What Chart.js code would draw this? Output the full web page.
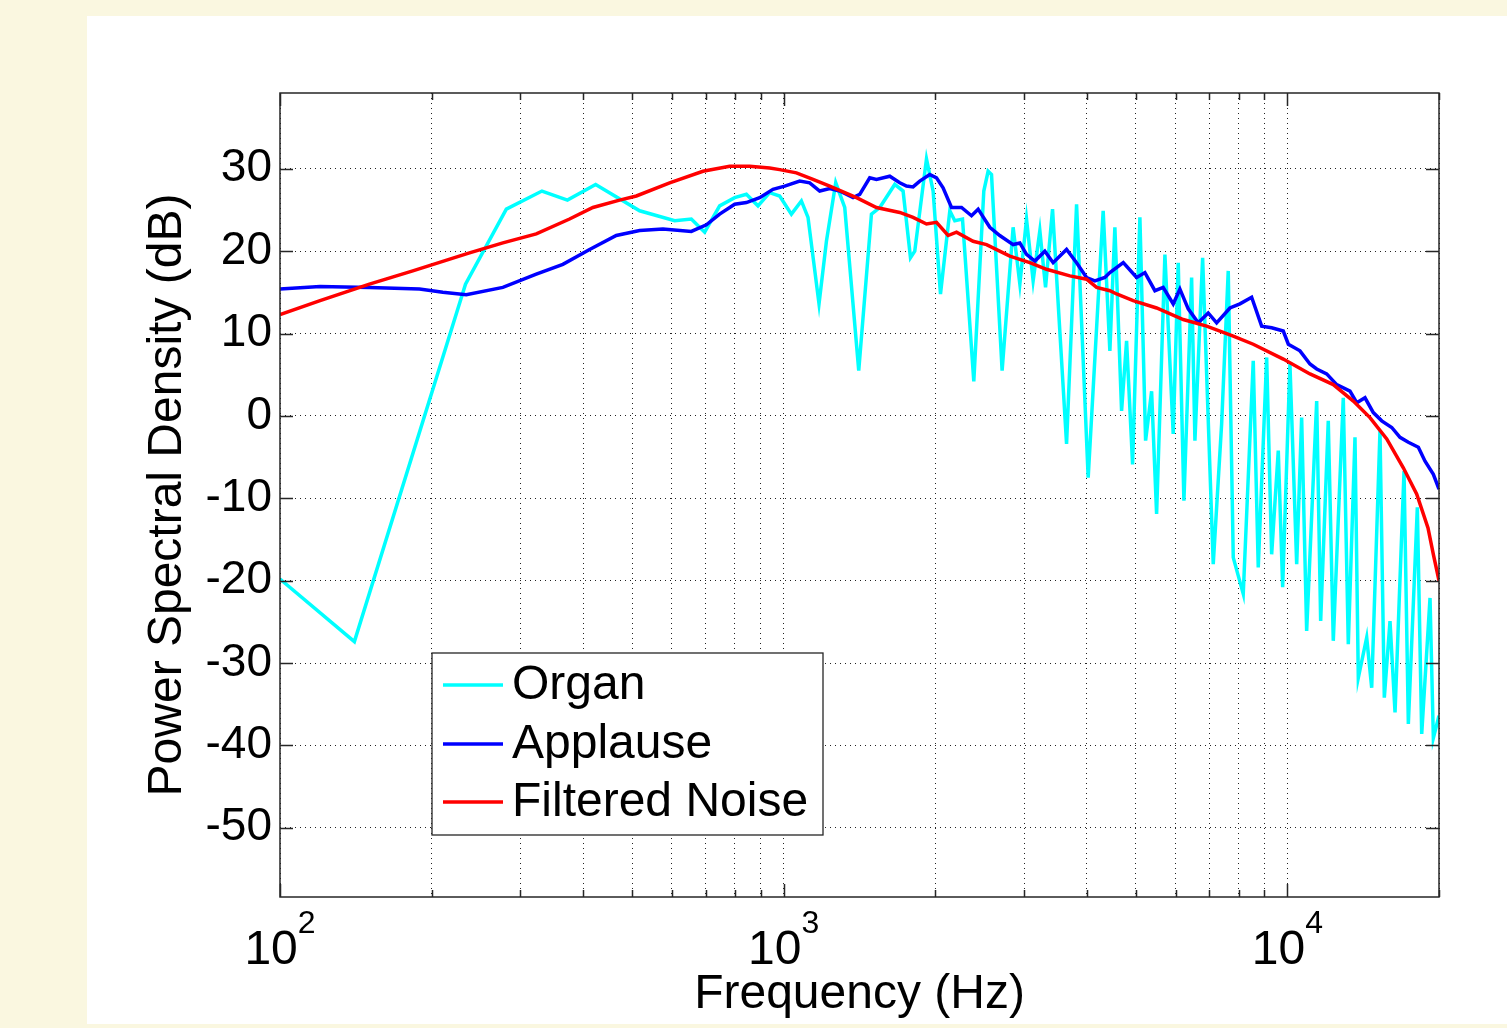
<!DOCTYPE html>
<html>
<head>
<meta charset="utf-8">
<title>Power Spectral Density</title>
<script src="https://cdn.jsdelivr.net/npm/chart.js@4.4.1/dist/chart.umd.min.js"></script>
<style>
  html, body { margin: 0; padding: 0; background: #faf7e0; overflow: hidden; }
  #panel { position: absolute; left: 87px; top: 16px; width: 1420px; height: 1008px; background: #fff; }
  #psd { position: absolute; left: 0; top: 0; }
</style>
</head>
<body>
<div id="panel"></div>
<canvas id="psd" width="1507" height="1028"></canvas>
<script>
// frequency in Hz, level in dB
const organFreq = [100, 140.5, 233.5, 281.4, 331.2, 372.1, 423.3, 517.6, 607.5, 655.6,
  696.8, 746.2, 799.3, 843.2, 889.2, 937.9, 981.8, 1035.9, 1084.3, 1117.6,
  1175.3, 1215.8, 1268.6, 1321.9, 1409.3, 1493.6, 1551.5, 1661.6, 1726, 1785.4,
  1820.7, 1920.9, 1980, 2047.9, 2137.2, 2186.3, 2264.7, 2384.8, 2496.4, 2546,
  2586, 2714.3, 2854.4, 2943.5, 3034.7, 3127.8, 3225.4, 3310.4, 3418, 3644.3,
  3814.9, 4022.8, 4308, 4442.2, 4545, 4686.3, 4794.9, 4928.2, 5095.5, 5230.4,
  5375.7, 5500.1, 5713, 5934, 6071.7, 6231.6, 6454.7, 6553.2, 6787.9, 7125.2,
  7403.8, 7631.4, 7808.7, 8173.1, 8555.5, 8753.6, 9096.8, 9306.3, 9592.5, 9787,
  10118, 10435, 10674, 10922, 11434, 11644, 12056, 12335, 12912, 13212,
  13622, 13830, 14371, 14703, 15271, 15576, 15987, 16358, 17045, 17385,
  18114, 18481, 19196, 19490, 20000];
const organDb = [-19.8, -27.4, 16.0, 25.1, 27.3, 26.2, 28.1, 24.9, 23.7, 23.9,
  22.3, 25.5, 26.5, 26.9, 25.5, 27.1, 26.7, 24.5, 26.1, 24.1,
  13.6, 21.2, 28.3, 25.3, 5.5, 24.5, 25.3, 28.1, 27.3, 19.2,
  20.0, 31.2, 27.3, 14.8, 24.9, 23.7, 23.9, 4.2, 27.3, 29.7,
  29.3, 5.5, 22.9, 16.0, 23.9, 16.4, 22.5, 15.6, 25.1, -3.4,
  25.7, -7.5, 24.9, 7.9, 22.9, 0.6, 9.1, -5.9, 24.1, -3.0,
  3.0, -11.9, 19.6, -2.2, 18.6, -10.3, 16.8, -3.0, 19.2, -18.0,
  -1.0, 17.6, -17.2, -21.6, 6.7, -18.4, 7.1, -16.8, -4.2, -20.8,
  6.3, -18.0, -0.2, -26.1, 1.8, -24.9, -0.6, -27.3, 2.2, -27.7,
  -2.6, -31.8, -26.9, -33.0, -1.8, -34.2, -24.9, -36.0, -6.7, -37.4,
  -11.1, -38.6, -22.1, -39.1, -36.4];

const applauseFreq = [100, 120.1, 150.5, 189.2, 210.5, 234.3, 277, 322.7, 364.4, 411.8,
  465.2, 517.6, 575.8, 655.6, 702.3, 746.2, 799.3, 843.2, 896.1, 952.2,
  1004.6, 1075.9, 1126.3, 1179, 1234.2, 1291.9, 1373, 1415.7, 1481.9, 1528.2,
  1624, 1699.9, 1753.1, 1806.6, 1862.8, 1950, 2010.8, 2072.3, 2153.5, 2254.5,
  2359.7, 2432.7, 2565.6, 2685.6, 2854.4, 2943.5, 3034.7, 3152.3, 3299.9, 3427.5,
  3644.3, 3814.9, 3993.3, 4147.8, 4341.9, 4442.2, 4722.9, 5019.8, 5213.6, 5457.6,
  5668.6, 5934, 6118.6, 6355.1, 6652.6, 6963.7, 7237.8, 7690.2, 8050.3, 8493.1,
  8890.8, 9306.3, 9814.4, 10044, 10592, 11088, 11434, 11968, 12529, 13314,
  13729, 14260, 14812, 15393, 16115, 16734, 17385, 18199, 18764, 19490, 20000];
const applauseDb = [15.4, 15.7, 15.6, 15.4, 15.0, 14.7, 15.6, 17.2, 18.4, 20.2,
  21.9, 22.5, 22.7, 22.4, 23.2, 24.5, 25.7, 25.9, 26.5, 27.5,
  27.9, 28.5, 28.3, 27.3, 27.6, 27.3, 26.5, 26.9, 28.9, 28.7,
  29.1, 28.3, 27.9, 27.8, 28.5, 29.3, 28.9, 27.7, 25.3, 25.3,
  24.3, 25.1, 22.9, 21.9, 20.8, 21.0, 19.6, 18.8, 20.0, 18.6,
  20.2, 18.6, 16.8, 16.4, 16.8, 17.4, 18.6, 16.8, 17.4, 15.2,
  15.6, 13.6, 15.4, 13.0, 11.3, 12.5, 11.3, 13.1, 13.6, 14.4,
  10.9, 10.7, 10.3, 8.7, 7.9, 6.3, 5.7, 5.1, 3.8, 3.0,
  1.6, 2.2, 0.4, -0.6, -1.4, -2.6, -3.2, -3.8, -5.5, -7.1, -8.9];

const noiseFreq = [100, 120.1, 150.5, 183.5, 237.8, 277, 322.7, 375.7, 418.1, 472.2,
  509.9, 593.7, 691.4, 781.1, 855.9, 937.9, 981.8, 1059.9, 1143.4, 1234.2,
  1394.7, 1528.2, 1699.9, 1806.6, 1920.9, 2010.8, 2120.6, 2203.5, 2377.1, 2527.4,
  2811.4, 3080.5, 3325.3, 3698.9, 3993.3, 4180.7, 4442.2, 4580.8, 4941.7, 5500.1,
  6211.6, 6913.8, 7808.7, 8555.5, 9814.4, 11088, 12335, 13518, 14588, 15749,
  16990, 18065, 19019, 19490, 20000];
const noiseDb = [12.3, 14.0, 16.0, 17.6, 19.8, 21.0, 22.1, 23.9, 25.3, 26.2,
  26.7, 28.3, 29.7, 30.3, 30.3, 30.1, 29.9, 29.5, 28.7, 27.9,
  26.5, 25.3, 24.7, 24.1, 23.3, 23.5, 21.9, 22.3, 21.2, 20.8,
  19.4, 18.6, 17.8, 17.0, 16.6, 15.6, 15.2, 14.8, 14.0, 13.1,
  11.7, 10.9, 9.7, 8.7, 6.9, 5.1, 3.8, 1.8, -0.2, -2.8,
  -6.3, -9.5, -13.6, -16.8, -20.0];

const xGrid = [100, 200, 300, 400, 500, 600, 700, 800, 900,
  1000, 2000, 3000, 4000, 5000, 6000, 7000, 8000, 9000, 10000, 20000];
const xMajor = [100, 1000, 10000];
const yTicks = [-50, -40, -30, -20, -10, 0, 10, 20, 30];

const FONT = '"Liberation Sans", Arial, Helvetica, sans-serif';
const pts = (xs, ys) => xs.map((v, i) => ({ x: v, y: ys[i] }));

// MATLAB look: boxed axes, inward ticks, 10^n labels, legend inside the axes
const matlabAxes = {
  id: 'matlabAxes',
  afterDraw(chart) {
    const { ctx, chartArea: a, scales: { x, y } } = chart;
    ctx.save();
    ctx.strokeStyle = '#262626';
    ctx.lineWidth = 1.5;
    ctx.strokeRect(a.left, a.top, a.right - a.left, a.bottom - a.top);

    ctx.beginPath();
    xGrid.forEach(v => {
      const px = Math.round(x.getPixelForValue(v)) + 0.5;
      const len = xMajor.includes(v) ? 13 : 7;
      ctx.moveTo(px, a.bottom); ctx.lineTo(px, a.bottom - len);
      ctx.moveTo(px, a.top); ctx.lineTo(px, a.top + len);
    });
    yTicks.forEach(v => {
      const py = Math.round(y.getPixelForValue(v)) + 0.5;
      ctx.moveTo(a.left, py); ctx.lineTo(a.left + 13, py);
      ctx.moveTo(a.right, py); ctx.lineTo(a.right - 13, py);
    });
    ctx.stroke();

    ctx.fillStyle = '#000';
    ctx.textBaseline = 'alphabetic';
    ctx.textAlign = 'left';
    xMajor.forEach(v => {
      const px = x.getPixelForValue(v);
      const exp = String(Math.round(Math.log10(v)));
      ctx.font = '48px ' + FONT;
      const w1 = ctx.measureText('10').width;
      ctx.font = '32px ' + FONT;
      const w2 = ctx.measureText(exp).width;
      const x0 = px - (w1 + w2) / 2;
      ctx.font = '48px ' + FONT;
      ctx.fillText('10', x0, a.bottom + 67);
      ctx.font = '32px ' + FONT;
      ctx.fillText(exp, x0 + w1, a.bottom + 36);
    });

    // legend box
    const bx = a.left + 152, by = a.top + 560, bw = 391, bh = 182;
    ctx.fillStyle = '#fff';
    ctx.fillRect(bx, by, bw, bh);
    ctx.strokeStyle = '#262626';
    ctx.lineWidth = 1.3;
    ctx.strokeRect(bx, by, bw, bh);
    ctx.font = '48px ' + FONT;
    ctx.textBaseline = 'middle';
    const rows = [32, 91, 149];
    chart.data.datasets.forEach((ds, i) => {
      const ry = by + rows[i];
      ctx.strokeStyle = ds.borderColor;
      ctx.lineWidth = 3.5;
      ctx.beginPath();
      ctx.moveTo(bx + 11, ry); ctx.lineTo(bx + 71, ry);
      ctx.stroke();
      ctx.fillStyle = '#000';
      ctx.fillText(ds.label, bx + 80, ry + 1);
    });
    ctx.restore();
  }
};

new Chart(document.getElementById('psd'), {
  type: 'line',
  data: {
    datasets: [
      { label: 'Organ', data: pts(organFreq, organDb), borderColor: '#00ffff', order: 3 },
      { label: 'Applause', data: pts(applauseFreq, applauseDb), borderColor: '#0000ff', order: 2 },
      { label: 'Filtered Noise', data: pts(noiseFreq, noiseDb), borderColor: '#ff0000', order: 1 },
    ],
  },
  options: {
    responsive: false,
    devicePixelRatio: 1,
    animation: false,
    elements: { point: { radius: 0 }, line: { borderWidth: 3.5, tension: 0 } },
    layout: { padding: { left: 0, top: 93, right: 68, bottom: 0 } },
    plugins: { legend: { display: false }, tooltip: { enabled: false } },
    scales: {
      x: {
        type: 'logarithmic',
        min: 100,
        max: 20000,
        afterBuildTicks: s => { s.ticks = xGrid.map(v => ({ value: v })); },
        afterFit: s => { s.height = 131; },
        ticks: { display: false },
        grid: { color: '#222', lineWidth: 1, drawTicks: false },
        border: { display: false, dash: [1, 4] },
        title: { display: true, text: 'Frequency (Hz)', color: '#000',
          font: { family: FONT, size: 48 }, padding: { top: 0, bottom: 4 } },
      },
      y: {
        min: -58.4,
        max: 39.2,
        afterBuildTicks: s => { s.ticks = yTicks.map(v => ({ value: v })); },
        afterFit: s => { s.width = 280; },
        ticks: { color: '#000', padding: 8, font: { family: FONT, size: 46 } },
        grid: { color: '#222', lineWidth: 1, drawTicks: false },
        border: { display: false, dash: [1, 4] },
        title: { display: true, text: 'Power Spectral Density (dB)', color: '#000',
          font: { family: FONT, size: 48 }, padding: { top: 139, bottom: 0 } },
      },
    },
  },
  plugins: [matlabAxes],
});
</script>
</body>
</html>
